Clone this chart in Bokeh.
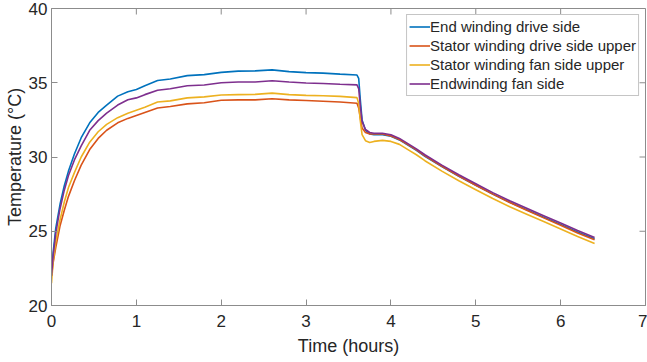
from bokeh.plotting import figure
from bokeh.models import FixedTicker, Range1d, Legend, LegendItem
from bokeh.embed import file_html
from bokeh.resources import INLINE

# time in hours
time_h = [0, 0.02, 0.05, 0.1, 0.15, 0.2, 0.27, 0.35, 0.45, 0.55,
          0.65, 0.78, 0.9, 1.0, 1.1, 1.25, 1.4, 1.6, 1.8, 2.0,
          2.2, 2.4, 2.6, 2.8, 3.0, 3.2, 3.4, 3.6, 3.62, 3.64,
          3.66, 3.7, 3.75, 3.8, 3.9, 4.0, 4.1, 4.2, 4.3, 4.4,
          4.6, 4.8, 5.0, 5.2, 5.4, 5.6, 5.8, 6.0, 6.2, 6.4]

end_winding_drive = [22.0, 23.6, 25.2, 26.8, 28.05, 29.05, 30.2, 31.3, 32.3, 33.0,
                     33.5, 34.1, 34.4, 34.55, 34.8, 35.15, 35.25, 35.48, 35.55, 35.7,
                     35.78, 35.8, 35.87, 35.75, 35.68, 35.65, 35.58, 35.52, 35.3, 33.8,
                     32.5, 31.8, 31.55, 31.5, 31.5, 31.4, 31.15, 30.8, 30.45, 30.05,
                     29.35, 28.7, 28.1, 27.5, 26.95, 26.45, 25.95, 25.45, 24.95, 24.5]

stator_drive_upper = [22.0, 22.9, 23.9, 25.35, 26.4, 27.35, 28.4, 29.45, 30.5, 31.25,
                      31.8, 32.3, 32.6, 32.8, 33.0, 33.3, 33.4, 33.58, 33.65, 33.82,
                      33.85, 33.85, 33.92, 33.85, 33.8, 33.75, 33.7, 33.62, 33.3, 32.6,
                      31.95, 31.65, 31.55, 31.55, 31.55, 31.42, 31.18, 30.83, 30.48, 30.08,
                      29.38, 28.72, 28.1, 27.5, 26.93, 26.42, 25.9, 25.4, 24.88, 24.42]

stator_fan_upper = [21.5, 23.0, 24.3, 25.75, 26.95, 27.95, 28.95, 30.0, 31.0, 31.7,
                    32.2, 32.65, 32.95, 33.15, 33.35, 33.7, 33.78, 33.98, 34.05, 34.18,
                    34.2, 34.22, 34.3, 34.2, 34.15, 34.12, 34.08, 34.0, 33.6, 32.4,
                    31.5, 31.1, 30.98, 31.05, 31.12, 31.05, 30.85, 30.5, 30.15, 29.75,
                    29.05, 28.4, 27.8, 27.2, 26.65, 26.15, 25.65, 25.15, 24.65, 24.18]

endwinding_fan = [22.0, 23.4, 24.85, 26.5, 27.75, 28.75, 29.8, 30.75, 31.8, 32.45,
                  32.95, 33.5, 33.85, 33.98, 34.2, 34.5, 34.6, 34.8, 34.85, 35.0,
                  35.05, 35.05, 35.13, 35.05, 34.98, 34.95, 34.9, 34.86, 34.6, 33.4,
                  32.4, 31.85, 31.65, 31.6, 31.6, 31.5, 31.25, 30.9, 30.55, 30.15,
                  29.45, 28.8, 28.2, 27.6, 27.05, 26.55, 26.05, 25.55, 25.05, 24.58]

series_names = ["End winding drive side", "Stator winding drive side upper",
                "Stator winding fan side upper", "Endwinding fan side"]
series_values = [end_winding_drive, stator_drive_upper, stator_fan_upper, endwinding_fan]
colors = ["#0072BD", "#D95319", "#EDB120", "#7E2F8E"]

x_ticks = [0, 1, 2, 3, 4, 5, 6, 7]
y_ticks = [20, 25, 30, 35, 40]
x_lim = (0, 7)
y_lim = (20, 40)

FONT = "Liberation Sans"
TXT = "#262626"
AX = "#8c8c8c"

p = figure(width=647, height=362, output_backend="svg", toolbar_location=None,
           x_range=Range1d(*x_lim), y_range=Range1d(*y_lim),
           min_border_left=51, min_border_right=2, min_border_top=8, min_border_bottom=57)
p.outline_line_color = AX
p.outline_line_width = 1
p.xgrid.visible = False
p.ygrid.visible = False
p.background_fill_color = "white"
p.border_fill_color = "white"

for ax in (p.xaxis[0], p.yaxis[0]):
    ax.axis_line_color = AX
    ax.axis_line_width = 1
    ax.major_tick_line_color = AX
    ax.major_tick_in = 6
    ax.major_tick_out = 0
    ax.minor_tick_line_color = None
    ax.major_label_text_font = FONT
    ax.major_label_text_color = TXT
    ax.major_label_text_font_size = "17px"
    ax.axis_label_text_font = FONT
    ax.axis_label_text_color = TXT
    ax.axis_label_text_font_style = "normal"
    ax.axis_label_text_font_size = "18px"

p.xaxis.ticker = FixedTicker(ticks=x_ticks)
p.yaxis.ticker = FixedTicker(ticks=y_ticks)
p.xaxis.axis_label = "Time (hours)"
p.yaxis.axis_label = "Temperature (°C)"
p.xaxis.major_label_standoff = 9
p.xaxis.axis_label_standoff = 6
p.yaxis.major_label_standoff = 4
p.yaxis.axis_label_standoff = 1

# inward ticks on the top and right edges of the box (MATLAB "box on")
tick_len_y = (y_lim[1] - y_lim[0]) * 6 / 297.0
tick_len_x = (x_lim[1] - x_lim[0]) * 6 / 594.0
p.segment(x0=x_ticks, y0=[y_lim[1]] * len(x_ticks), x1=x_ticks,
          y1=[y_lim[1] - tick_len_y] * len(x_ticks), line_color=AX, line_width=1)
p.segment(x0=[x_lim[1]] * len(y_ticks), y0=y_ticks, x1=[x_lim[1] - tick_len_x] * len(y_ticks),
          y1=y_ticks, line_color=AX, line_width=1)

items = []
for name, vals, col in zip(series_names, series_values, colors):
    r = p.line(time_h, vals, line_color=col, line_width=1.6)
    items.append(LegendItem(label=name, renderers=[r]))

legend = Legend(items=items, location="top_right", margin=6,
                label_text_font=FONT, label_text_font_size="15px", label_text_color=TXT,
                border_line_color=AX, border_line_width=1, background_fill_color="white",
                background_fill_alpha=1.0, padding=2, spacing=0, label_height=19,
                glyph_height=19, glyph_width=21, label_standoff=0)
p.add_layout(legend, "center")

open("out.html", "w").write(file_html(p, INLINE))
